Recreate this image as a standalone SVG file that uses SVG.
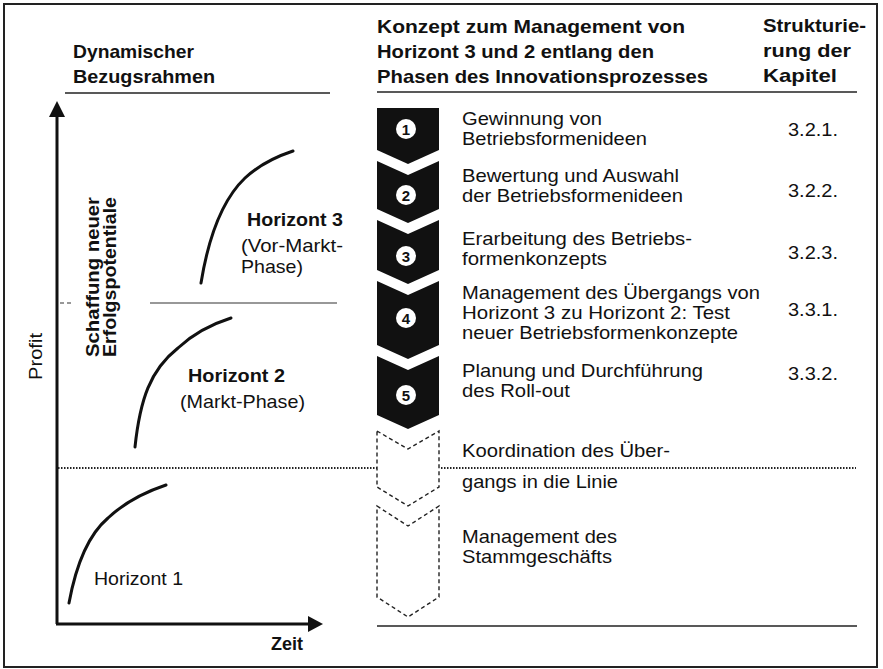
<svg xmlns="http://www.w3.org/2000/svg" width="883" height="669" viewBox="0 0 883 669">
<style>
text{font-family:"Liberation Sans",Arial,sans-serif;fill:#111}
.b{font-weight:bold;font-size:18.5px}
.n{font-size:18.5px}
.num{font-weight:bold;font-size:15px;text-anchor:middle}
.rule{stroke:#222;stroke-width:1.6;fill:none}
.axis{stroke:#111;stroke-width:3;fill:none}
.curve{stroke:#111;stroke-width:3;fill:none;stroke-linecap:round}
.chev{fill:#111}
.dchev{fill:#fff;stroke:#222;stroke-width:1.4;stroke-dasharray:4 3}
.dot{stroke:#222;stroke-width:2;stroke-dasharray:1.5 1.5}
.circ{fill:#fff}
</style>
<rect x="4" y="4" width="873" height="663" fill="#fff" stroke="#222" stroke-width="2"/>

<g id="headers">
<text class="b" x="73" y="58" textLength="121" lengthAdjust="spacingAndGlyphs">Dynamischer</text>
<text class="b" x="73" y="83" textLength="142" lengthAdjust="spacingAndGlyphs">Bezugsrahmen</text>
<text class="b" x="377" y="33" textLength="308" lengthAdjust="spacingAndGlyphs">Konzept zum Management von</text>
<text class="b" x="377" y="58" textLength="277" lengthAdjust="spacingAndGlyphs">Horizont 3 und 2 entlang den</text>
<text class="b" x="377" y="83" textLength="331" lengthAdjust="spacingAndGlyphs">Phasen des Innovationsprozesses</text>
<text class="b" x="763" y="32" textLength="103" lengthAdjust="spacingAndGlyphs">Strukturie-</text>
<text class="b" x="763" y="57" textLength="88" lengthAdjust="spacingAndGlyphs">rung der</text>
<text class="b" x="763" y="82" textLength="74" lengthAdjust="spacingAndGlyphs">Kapitel</text>
<line class="rule" x1="65" y1="93" x2="330" y2="93"/>
<line class="rule" x1="377" y1="92" x2="857" y2="92"/>
</g>

<g id="chart">
<line class="axis" x1="57" y1="624" x2="57" y2="114"/>
<polygon points="57,101 49,117 65,117" fill="#111"/>
<line class="axis" x1="56" y1="624" x2="310" y2="624"/>
<polygon points="323,624 308,616 308,632" fill="#111"/>
<text class="n" transform="translate(42,380) rotate(-90)" textLength="47" lengthAdjust="spacingAndGlyphs">Profit</text>
<text class="b" transform="translate(99,357) rotate(-90)" textLength="160" lengthAdjust="spacingAndGlyphs">Schaffung neuer</text>
<text class="b" transform="translate(116,357) rotate(-90)" textLength="160" lengthAdjust="spacingAndGlyphs">Erfolgspotentiale</text>
<line x1="60" y1="303" x2="72" y2="303" stroke="#333" stroke-width="1.2" stroke-dasharray="4 3"/>
<line x1="150" y1="303" x2="337" y2="303" stroke="#333" stroke-width="1.2"/>
<text class="b" x="271" y="650" textLength="32" lengthAdjust="spacingAndGlyphs">Zeit</text>
</g>

<g id="horizont3">
<path class="curve" d="M201,283 C208,240 222,200 245,178 C260,164 275,157 293,151"/>
<text class="b" x="247" y="226" textLength="96" lengthAdjust="spacingAndGlyphs">Horizont 3</text>
<text class="n" x="241" y="252" textLength="102" lengthAdjust="spacingAndGlyphs">(Vor-Markt-</text>
<text class="n" x="241" y="273" textLength="62" lengthAdjust="spacingAndGlyphs">Phase)</text>
</g>

<g id="horizont2">
<path class="curve" d="M135,447 C140,400 150,370 178,348 C195,332 212,324 231,318"/>
<text class="b" x="188" y="382" textLength="97" lengthAdjust="spacingAndGlyphs">Horizont 2</text>
<text class="n" x="180" y="408" textLength="125" lengthAdjust="spacingAndGlyphs">(Markt-Phase)</text>
</g>

<g id="horizont1">
<path class="curve" d="M69,603 C76,565 88,535 108,518 C125,502 145,492 166,485"/>
<text class="n" x="94" y="585" textLength="89" lengthAdjust="spacingAndGlyphs">Horizont 1</text>
</g>

<g id="connectors">
<line class="dot" x1="58" y1="468" x2="377" y2="468"/>
<line class="dot" x1="441" y1="468" x2="856" y2="468"/>
<line class="rule" x1="377" y1="626" x2="857" y2="626"/>
</g>

<g id="phase1">
<path class="chev" d="M377,108 H439 V150 L408,164 L377,150 Z"/>
<circle class="circ" cx="406" cy="129" r="10"/>
<text class="num" x="406" y="134.5">1</text>
<text class="n" x="462" y="125" textLength="140" lengthAdjust="spacingAndGlyphs">Gewinnung von</text>
<text class="n" x="462" y="145" textLength="185" lengthAdjust="spacingAndGlyphs">Betriebsformenideen</text>
<text class="n" x="788" y="136" textLength="50" lengthAdjust="spacingAndGlyphs">3.2.1.</text>
</g>

<g id="phase2">
<path class="chev" d="M377,161 L408,175 L439,161 V209 L408,223 L377,209 Z"/>
<circle class="circ" cx="406" cy="195" r="10"/>
<text class="num" x="406" y="200.5">2</text>
<text class="n" x="462" y="182" textLength="217" lengthAdjust="spacingAndGlyphs">Bewertung und Auswahl</text>
<text class="n" x="462" y="202" textLength="221" lengthAdjust="spacingAndGlyphs">der Betriebsformenideen</text>
<text class="n" x="788" y="197" textLength="50" lengthAdjust="spacingAndGlyphs">3.2.2.</text>
</g>

<g id="phase3">
<path class="chev" d="M377,220 L408,234 L439,220 V270 L408,284 L377,270 Z"/>
<circle class="circ" cx="406" cy="256" r="10"/>
<text class="num" x="406" y="261.5">3</text>
<text class="n" x="462" y="245" textLength="230" lengthAdjust="spacingAndGlyphs">Erarbeitung des Betriebs-</text>
<text class="n" x="462" y="265" textLength="145" lengthAdjust="spacingAndGlyphs">formenkonzepts</text>
<text class="n" x="788" y="259" textLength="50" lengthAdjust="spacingAndGlyphs">3.2.3.</text>
</g>

<g id="phase4">
<path class="chev" d="M377,281 L408,295 L439,281 V345 L408,359 L377,345 Z"/>
<circle class="circ" cx="406" cy="318" r="10"/>
<text class="num" x="406" y="323.5">4</text>
<text class="n" x="462" y="299" textLength="298" lengthAdjust="spacingAndGlyphs">Management des Übergangs von</text>
<text class="n" x="462" y="319" textLength="268" lengthAdjust="spacingAndGlyphs">Horizont 3 zu Horizont 2: Test</text>
<text class="n" x="462" y="339" textLength="276" lengthAdjust="spacingAndGlyphs">neuer Betriebsformenkonzepte</text>
<text class="n" x="788" y="316" textLength="50" lengthAdjust="spacingAndGlyphs">3.3.1.</text>
</g>

<g id="phase5">
<path class="chev" d="M377,356 L408,370 L439,356 V415 L408,429 L377,415 Z"/>
<circle class="circ" cx="406" cy="395" r="10"/>
<text class="num" x="406" y="400.5">5</text>
<text class="n" x="462" y="377" textLength="241" lengthAdjust="spacingAndGlyphs">Planung und Durchführung</text>
<text class="n" x="462" y="397" textLength="108" lengthAdjust="spacingAndGlyphs">des Roll-out</text>
<text class="n" x="788" y="380" textLength="50" lengthAdjust="spacingAndGlyphs">3.3.2.</text>
</g>

<g id="phase6">
<path class="dchev" d="M377,431 L408,449 L439,431 V487 L408,506 L377,487 Z"/>
<text class="n" x="462" y="457" textLength="208" lengthAdjust="spacingAndGlyphs">Koordination des Über-</text>
<text class="n" x="462" y="488" textLength="156" lengthAdjust="spacingAndGlyphs">gangs in die Linie</text>
</g>

<g id="phase7">
<path class="dchev" d="M377,506 L408,526 L439,506 V597 L408,617 L377,597 Z"/>
<text class="n" x="462" y="543" textLength="155" lengthAdjust="spacingAndGlyphs">Management des</text>
<text class="n" x="462" y="563" textLength="150" lengthAdjust="spacingAndGlyphs">Stammgeschäfts</text>
</g>
</svg>
